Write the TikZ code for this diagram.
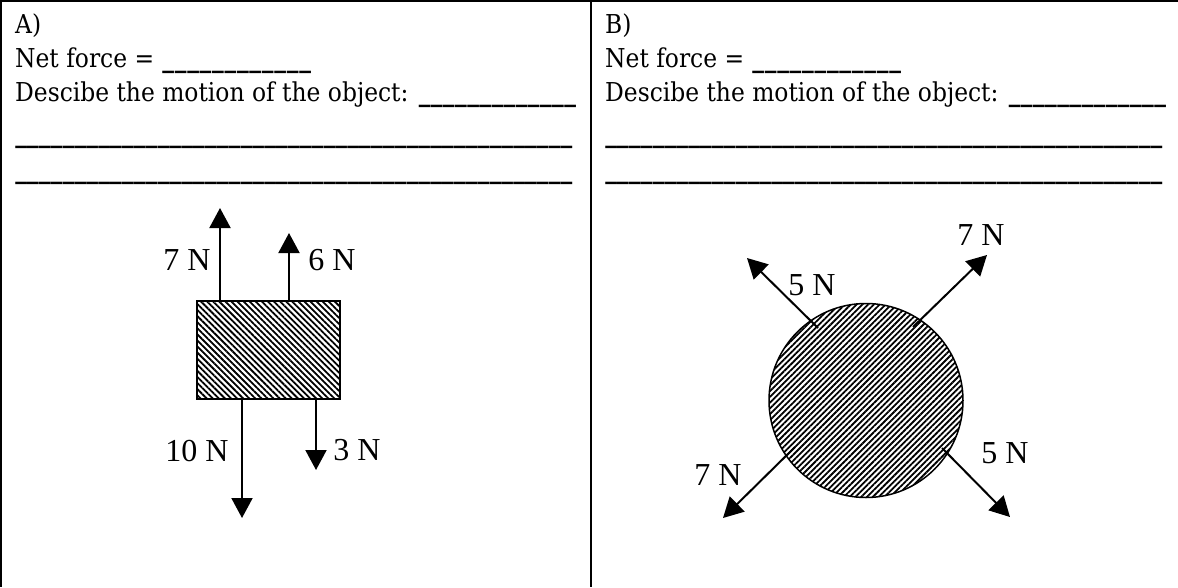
\documentclass[tikz,border=0pt]{standalone}
\usepackage{fontspec}
\setmainfont{DejaVu Serif Condensed}
\newfontfamily\labfont{Liberation Serif}
\usetikzlibrary{arrows.meta,patterns.meta}
\newcommand\ublank[1]{\hbox to #1pt{\xleaders\hbox{\bfseries\_}\hfill}}
\begin{document}
\begin{tikzpicture}[x=1pt,y=-1pt,
  txt/.style={anchor=base west,inner sep=0pt,font=\fontsize{26}{31}\selectfont},
  lbl/.style={anchor=base,inner sep=0pt,font=\labfont\fontsize{32}{38}\selectfont},
  frameline/.style={line width=2pt},
  force/.style={line width=2pt,-{Triangle[width=21pt,length=20pt]}},
  hatchbox/.style={draw,line width=1.5pt,inner sep=0pt,
    pattern={Lines[angle=-45,distance=4.3pt,line width=1.8pt]}},
  hatchball/.style={draw,circle,line width=1.5pt,inner sep=0pt,
    pattern={Lines[angle=45,distance=4.1pt,line width=1.8pt]}}]
\useasboundingbox (0,0) rectangle (1178,587);
% frame
\draw[frameline] (0,1) -- (1178,1);
\draw[frameline] (1,0) -- (1,587);
\draw[frameline] (591,0) -- (591,587);
% left texts
\node[txt] (ahead) at (15,33) {A)};
\node[txt] (anet) at (15,67) {Net force = \ublank{150}};
\node[txt] (adesc) at (15,101) {Descibe the motion of the object: \ublank{158}};
\node[txt] (aline1) at (15,142) {\ublank{557}};
\node[txt] (aline2) at (15,178) {\ublank{557}};
% right texts
\node[txt] (bhead) at (605,33) {B)};
\node[txt] (bnet) at (605,67) {Net force = \ublank{150}};
\node[txt] (bdesc) at (605,101) {Descibe the motion of the object: \ublank{158}};
\node[txt] (bline1) at (605,142) {\ublank{557}};
\node[txt] (bline2) at (605,178) {\ublank{557}};
% box
\node[hatchbox,minimum width=143pt,minimum height=98pt] (box) at (268.5,350) {};
\coordinate (t7) at (220,208);
\coordinate (t6) at (289,233);
\coordinate (t10) at (242,518);
\coordinate (t3) at (316,470);
\draw[force] (box.north -| t7) -- (t7);
\draw[force] (box.north -| t6) -- (t6);
\draw[force] (box.south -| t10) -- (t10);
\draw[force] (box.south -| t3) -- (t3);
\node[lbl] (l7) at (187,270) {7 N};
\node[lbl] (l6) at (332,270) {6 N};
\node[lbl] (l10) at (197,461) {10 N};
\node[lbl] (l3) at (357,460) {3 N};
% ball
\node[hatchball,minimum size=194pt] (ball) at (866,400.5) {};
\coordinate (s1) at (818,328);
\coordinate (e1) at (747,258);
\coordinate (s2) at (913,327);
\coordinate (e2) at (987,255);
\coordinate (s3) at (795,447);
\coordinate (e3) at (723,518);
\coordinate (s4) at (942,448);
\coordinate (e4) at (1010,517);
\draw[force] (s1) -- (e1);
\draw[force] (s2) -- (e2);
\draw[force] (s3) -- (e3);
\draw[force] (s4) -- (e4);
\node[lbl] (m5a) at (812,295) {5 N};
\node[lbl] (m7a) at (981,245) {7 N};
\node[lbl] (m7b) at (718,485) {7 N};
\node[lbl] (m5b) at (1005,463) {5 N};
\end{tikzpicture}
\end{document}
